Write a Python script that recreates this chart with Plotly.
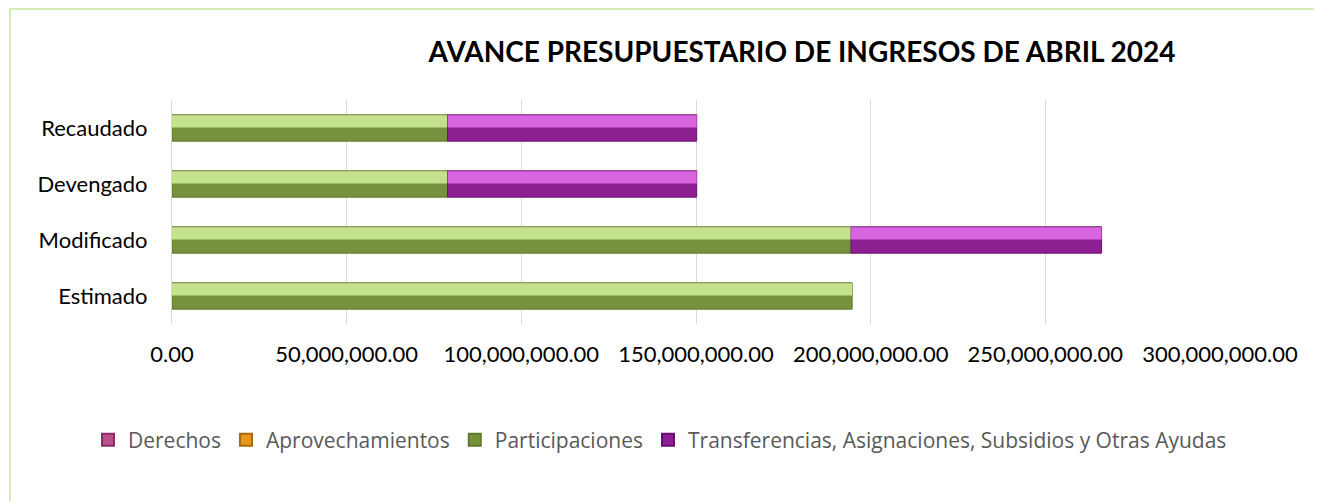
import plotly.graph_objects as go
import numpy as np

categories = ["Estimado", "Modificado", "Devengado", "Recaudado"]
derechos = [0, 0, 0, 0]
aprovechamientos = [0, 0, 0, 0]
participaciones = [194700000, 194400000, 78900000, 78900000]
transferencias = [0, 71700000, 71300000, 71300000]
x_ticks = [0, 50000000, 100000000, 150000000, 200000000, 250000000, 300000000]
x_tick_labels = ["0.00", "50,000,000.00", "100,000,000.00", "150,000,000.00",
                 "200,000,000.00", "250,000,000.00", "300,000,000.00"]

series = [
    ("Derechos", derechos, "#b84f8e", "#e08cc0", "#8a2f66"),
    ("Aprovechamientos", aprovechamientos, "#e39a1f", "#f5cc60", "#a86a10"),
    ("Participaciones", participaciones, "#76923c", "#c4e28c", "#5f7a2a"),
    ("Transferencias, Asignaciones, Subsidios y Otras Ayudas", transferencias,
     "#8e2093", "#d865de", "#6a1070"),
]

# page offset of 8px (body margin) -> figure coords = screen - 8
OFF = 8
W, H = 1322, 501
ML, MT = 172 - OFF, 100 - OFF
MR = W - (1220 - OFF)
MB = H - (324 - OFF)
BW = 0.47

fig = go.Figure()
base = np.zeros(len(categories))
for name, vals, dark, light, edge in series:
    v = np.array(vals, dtype=float)
    vdraw = np.where(v > 0, v, np.nan)
    fig.add_trace(go.Bar(
        y=categories, x=vdraw, base=base.copy(), orientation="h", name=name,
        width=BW, marker=dict(color=dark, line=dict(color=edge, width=1)),
        hoverinfo="skip",
    ))
    fig.add_trace(go.Bar(
        y=categories, x=vdraw, base=base.copy(), orientation="h", name=name,
        width=BW * 0.46, offset=BW * 0.02, showlegend=False,
        marker=dict(color=light, line=dict(width=0)), hoverinfo="skip",
    ))
    base = base + v

pw = W - ML - MR
ph = H - MT - MB
fx = lambda px: (px - OFF - ML) / pw
fy = lambda py: 1 - (py - OFF - MT) / ph

fig.update_layout(
    width=W, height=H,
    margin=dict(l=ML, r=MR, t=MT, b=MB),
    barmode="overlay",
    paper_bgcolor="white", plot_bgcolor="white",
    title=dict(text="<b>AVANCE PRESUPUESTARIO DE INGRESOS DE ABRIL 2024</b>",
               x=fx(802), xref="paper", xanchor="center",
               y=1 - (52 - OFF) / H, yanchor="middle",
               font=dict(family="Lato", size=28, color="#000000")),
    xaxis=dict(range=[0, 300000000], tickvals=x_ticks, ticktext=x_tick_labels,
               showgrid=True, gridcolor="#d9d9d9", gridwidth=1,
               zeroline=False, showline=False, ticks="",
               tickfont=dict(family="Lato", size=22, color="#000000"),
               ticklabelstandoff=15, fixedrange=True),
    yaxis=dict(categoryorder="array", categoryarray=categories,
               showline=True, linecolor="#d9d9d9", linewidth=1,
               showgrid=False, zeroline=False, ticks="",
               tickfont=dict(family="Lato", size=22, color="#000000"),
               ticklabelstandoff=19, range=[-0.5, 3.5], fixedrange=True),
    legend=dict(orientation="h", x=fx(88), xanchor="left",
                y=fy(440), yanchor="middle",
                font=dict(family="Open Sans", size=21, color="#595959"),
                itemsizing="constant", traceorder="normal"),
    showlegend=True,
    shapes=[
        dict(type="line", xref="paper", yref="paper",
             x0=fx(10), x1=fx(W + 20), y0=fy(9), y1=fy(9),
             line=dict(color="#d4edb4", width=2)),
        dict(type="line", xref="paper", yref="paper",
             x0=fx(10), x1=fx(10), y0=fy(9), y1=fy(H + 20),
             line=dict(color="#d4edb4", width=2)),
    ],
)

fig.write_html("out.html")
